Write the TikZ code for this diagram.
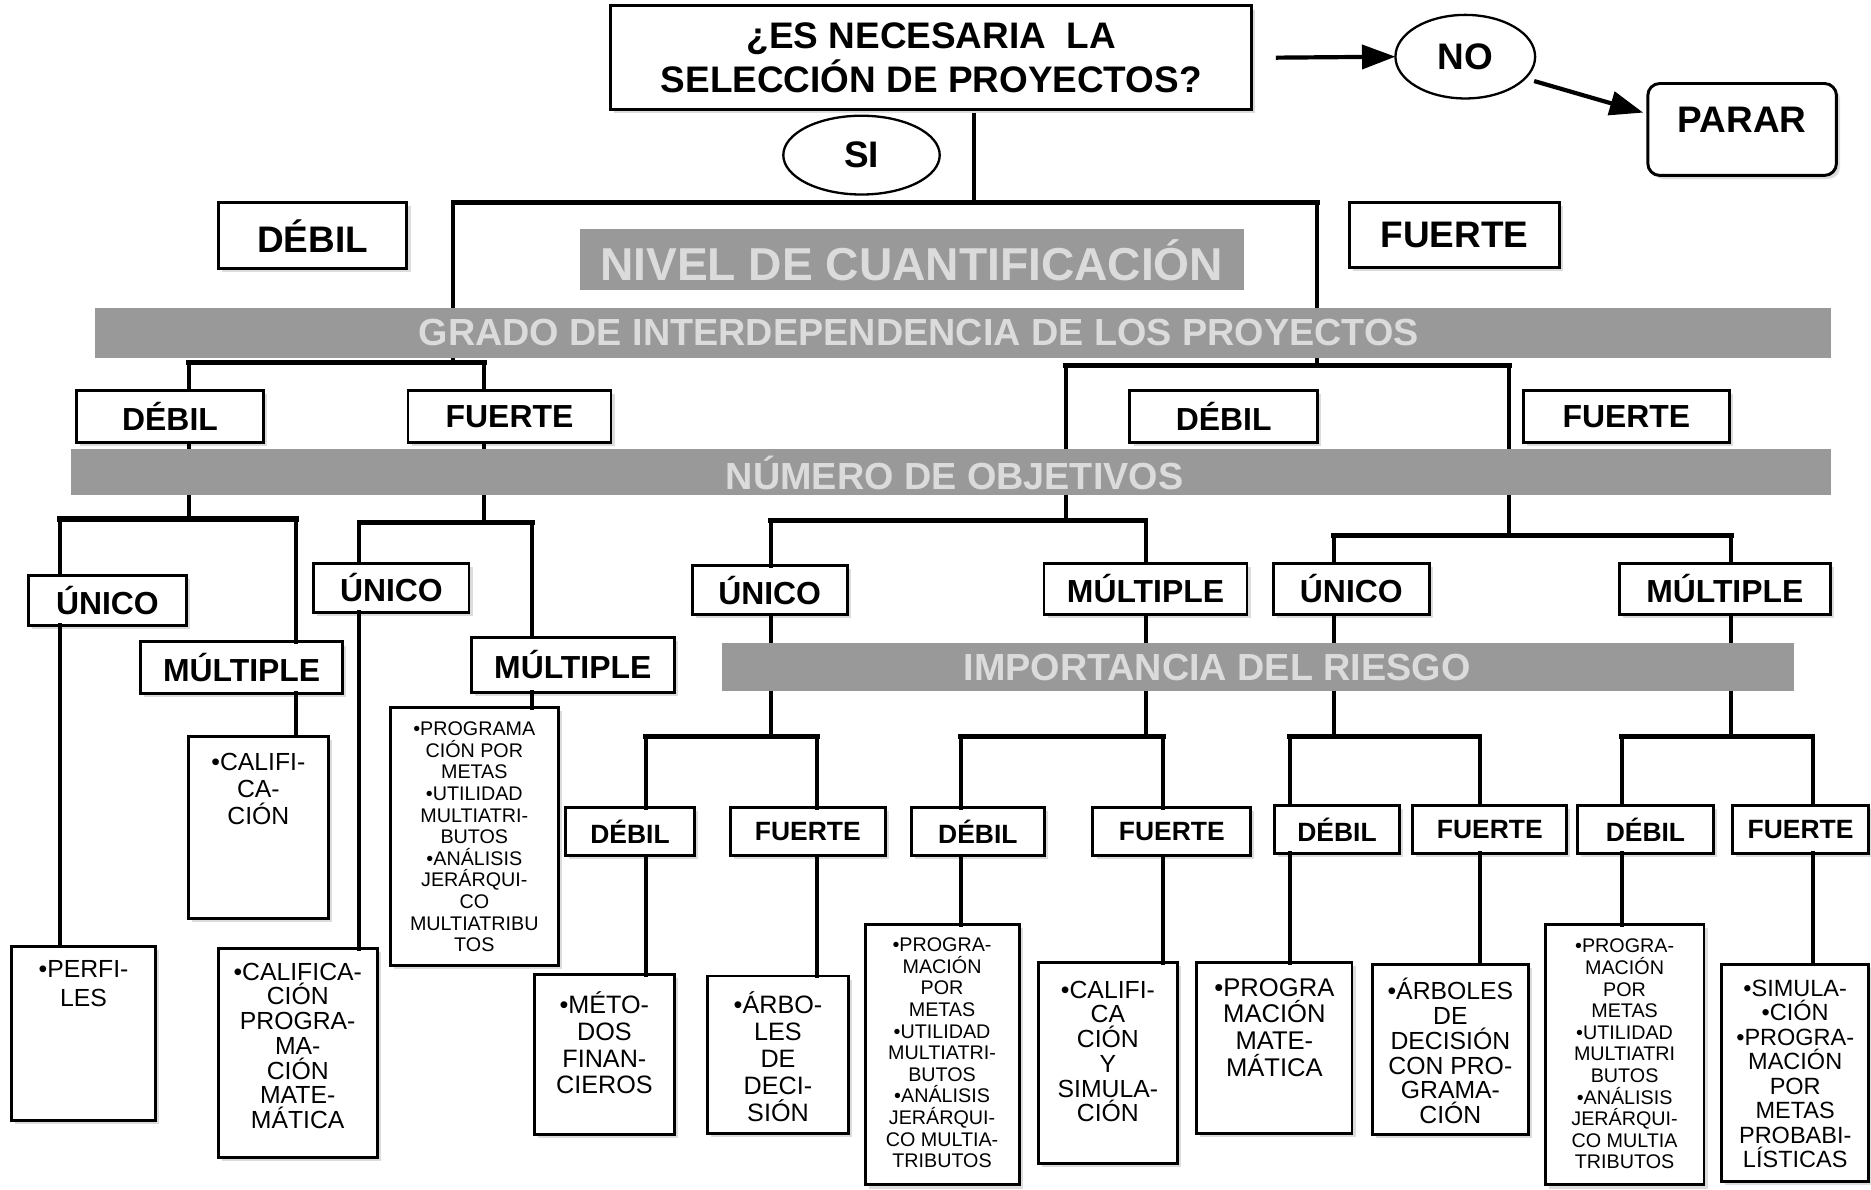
\documentclass[tikz,border=0pt]{standalone}
\usepackage{fontspec}
\setmainfont{Liberation Sans}
\usetikzlibrary{shapes.geometric,arrows.meta,shadows}

% node given by its two corners: [style]{name}{x1}{y1}{x2}{y2}{text}
\newcommand{\cornerbox}[7][]{%
  \pgfmathsetmacro{\cornerboxX}{(#3+#5)/2}%
  \pgfmathsetmacro{\cornerboxY}{(#4+#6)/2}%
  \pgfmathsetmacro{\cornerboxW}{(#5-#3)/100}%
  \pgfmathsetmacro{\cornerboxH}{(#6-#4)/100}%
  \node[#1, minimum width=\cornerboxW cm, minimum height=\cornerboxH cm] (#2) at (\cornerboxX,\cornerboxY) {#7};}

\begin{document}
\begin{tikzpicture}[x=0.01cm, y=-0.01cm,
  every node/.style={inner sep=0pt, outer sep=0pt},
  frame/.style={draw=black, line width=0.7pt, fill=white,
    drop shadow={shadow xshift=0.03cm, shadow yshift=-0.03cm, fill=gray!60, opacity=0.45}},
  labbig/.style={frame, font=\bfseries\fontsize{8.8}{10.5}\selectfont},
  lab/.style={frame, font=\bfseries\fontsize{7.6}{9}\selectfont},
  labsmall/.style={frame, font=\bfseries\fontsize{6.3}{7.5}\selectfont},
  leaftext/.style={anchor=north, align=center, font=\fontsize{5.9}{5.9}\selectfont},
  leafsmall/.style={anchor=north, align=center, font=\fontsize{4.7}{5.15}\selectfont},
  oval/.style={ellipse, draw, line width=0.55pt, fill=white, font=\bfseries\fontsize{8.8}{10.5}\selectfont},
  wire/.style={line width=0.95pt, line cap=rect},
  bus/.style={line width=1.25pt, line cap=rect},
  arrowline/.style={line width=1pt, -{Triangle[length=0.28cm,width=0.2cm]}},
  band/.style={fill=black!40},
  bandtext/.style={text=black!14, font=\bfseries\fontsize{9}{10}\selectfont},
]
\useasboundingbox (0,0) rectangle (1568,997);

% ---------- question, yes / no ----------
\cornerbox[labbig, align=center]{title}{512}{5}{1049}{92}{¿ES NECESARIA\ \ LA\\SELECCIÓN DE PROYECTOS?}
\node[oval, minimum width=1.17cm, minimum height=0.70cm] (no) at (1228,47.5) {NO};
\node[oval, minimum width=1.31cm, minimum height=0.66cm] (si) at (722,130) {SI};
\cornerbox[frame, rounded corners=0.1cm]{parar}{1381}{70}{1539}{147}{}
\node[font=\bfseries\fontsize{8.8}{10.5}\selectfont] (parar-t) at (1460,100) {PARAR};

% ---------- level labels ----------
\cornerbox[labbig]{d1}{183}{170}{341}{225}{DÉBIL}
\cornerbox[labbig]{f1}{1131}{170}{1307}{224}{FUERTE}

\cornerbox[lab]{d2a}{64}{327}{221}{371}{DÉBIL}
\cornerbox[lab]{f2a}{342}{327}{512}{371}{FUERTE}
\cornerbox[lab]{d2b}{947}{327}{1104}{371}{DÉBIL}
\cornerbox[lab]{f2b}{1277}{327}{1449}{371}{FUERTE}

\cornerbox[lab]{u3a}{24}{482}{156}{524}{ÚNICO}
\cornerbox[lab]{m3a}{118}{538}{287}{581}{MÚLTIPLE}
\cornerbox[lab]{u3b}{263}{472}{393}{513}{ÚNICO}
\cornerbox[lab]{m3b}{395}{534}{565}{580}{MÚLTIPLE}
\cornerbox[lab]{u3c}{580}{474}{710}{515}{ÚNICO}
\cornerbox[lab]{m3c}{875}{472}{1045}{515}{MÚLTIPLE}
\cornerbox[lab]{u3d}{1067}{472}{1198}{515}{ÚNICO}
\cornerbox[lab]{m3d}{1357}{472}{1534}{515}{MÚLTIPLE}

\cornerbox[labsmall]{d4a}{474}{677}{582}{717}{DÉBIL}
\cornerbox[labsmall]{f4a}{612}{677}{742}{717}{FUERTE}
\cornerbox[labsmall]{d4b}{764}{677}{875}{717}{DÉBIL}
\cornerbox[labsmall]{f4b}{916}{677}{1048}{717}{FUERTE}
\cornerbox[labsmall]{d4c}{1068}{675}{1173}{715}{DÉBIL}
\cornerbox[labsmall]{f4c}{1184}{675}{1313}{715}{FUERTE}
\cornerbox[labsmall]{d4d}{1322}{675}{1436}{715}{DÉBIL}
\cornerbox[labsmall]{f4d}{1452}{675}{1566}{715}{FUERTE}

% ---------- methods ----------
\cornerbox[frame]{perf}{10}{793}{130}{939}{}
\node[leaftext, font=\fontsize{5.9}{6.8}\selectfont] (perf-t) at ([yshift=-0.12cm]perf.north) {•PERFI-\\LES};
\cornerbox[frame]{calA}{158}{617}{275}{770}{}
\node[leaftext, font=\fontsize{5.9}{6.5}\selectfont] (calA-t) at ([yshift=-0.14cm]calA.north) {•CALIFI-\\CA-\\CIÓN};
\cornerbox[frame]{calB}{183}{795}{316}{970}{}
\node[leaftext] (calB-t) at ([yshift=-0.12cm]calB.north) {•CALIFICA-\\CIÓN\\PROGRA-\\MA-\\CIÓN\\MATE-\\MÁTICA};
\cornerbox[frame]{progL}{327}{593}{468}{809}{}
\node[leafsmall] (progL-t) at ([yshift=-0.12cm]progL.north) {•PROGRAMA\\CIÓN POR\\METAS\\•UTILIDAD\\MULTIATRI-\\BUTOS\\•ANÁLISIS\\JERÁRQUI-\\CO\\MULTIATRIBU\\TOS};
\cornerbox[frame]{met}{448}{817}{565}{951}{}
\node[leaftext, font=\fontsize{6}{6.4}\selectfont] (met-t) at ([yshift=-0.14cm]met.north) {•MÉTO-\\DOS\\FINAN-\\CIEROS};
\cornerbox[frame]{arb}{593}{818}{711}{950}{}
\node[leaftext, font=\fontsize{6}{6.45}\selectfont] (arb-t) at ([yshift=-0.13cm]arb.north) {•ÁRBO-\\LES\\DE\\DECI-\\SIÓN};
\cornerbox[frame]{progR1}{725}{775}{854}{993}{}
\node[leafsmall] (progR1-t) at ([yshift=-0.11cm]progR1.north) {•PROGRA-\\MACIÓN\\POR\\METAS\\•UTILIDAD\\MULTIATRI-\\BUTOS\\•ANÁLISIS\\JERÁRQUI-\\CO MULTIA-\\TRIBUTOS};
\cornerbox[frame]{calsim}{870}{807}{987}{975}{}
\node[leaftext] (calsim-t) at ([yshift=-0.15cm]calsim.north) {•CALIFI-\\CA\\CIÓN\\Y\\SIMULA-\\CIÓN};
\cornerbox[frame]{progmat}{1003}{807}{1133}{950}{}
\node[leaftext, font=\fontsize{6.1}{6.35}\selectfont] (progmat-t) at ([yshift=-0.13cm]progmat.north) {•PROGRA\\MACIÓN\\MATE-\\MÁTICA};
\cornerbox[frame]{arbprog}{1150}{808}{1281}{951}{}
\node[leaftext] (arbprog-t) at ([yshift=-0.12cm]arbprog.north) {•ÁRBOLES\\DE\\DECISIÓN\\CON PRO-\\GRAMA-\\CIÓN};
\cornerbox[frame]{progR2}{1295}{775}{1428}{993}{}
\node[leafsmall] (progR2-t) at ([yshift=-0.12cm]progR2.north) {•PROGRA-\\MACIÓN\\POR\\METAS\\•UTILIDAD\\MULTIATRI\\BUTOS\\•ANÁLISIS\\JERÁRQUI-\\CO MULTIA\\TRIBUTOS};
\cornerbox[frame]{simprog}{1443}{808}{1566}{990}{}
\node[leaftext, font=\fontsize{5.6}{5.85}\selectfont] (simprog-t) at ([yshift=-0.13cm]simprog.north) {•SIMULA-\\•CIÓN\\•PROGRA-\\MACIÓN\\POR\\METAS\\PROBABI-\\LÍSTICAS};

% ---------- junction points of the tree ----------
\coordinate (kQ) at (816,170);
\coordinate (kL) at (380,170);
\coordinate (kR) at (1104,170);
\coordinate (p1L) at (158,304);  \coordinate (p1R) at (406,304);
\coordinate (p2L) at (893,306);  \coordinate (p2R) at (1265,306);
\coordinate (q1L) at (50,435);   \coordinate (q1R) at (248,435);
\coordinate (q2L) at (301,438);  \coordinate (q2R) at (446,438);
\coordinate (q3L) at (646,436);  \coordinate (q3R) at (960,436);
\coordinate (q4L) at (1118,449); \coordinate (q4R) at (1451,449);
\coordinate (r1L) at (541,617);  \coordinate (r1R) at (685,617);
\coordinate (r2L) at (805,617);  \coordinate (r2R) at (975,617);
\coordinate (r3L) at (1081,617); \coordinate (r3R) at (1240,617);
\coordinate (r4L) at (1359,617); \coordinate (r4R) at (1519,617);

% ---------- arrows of the NO branch ----------
\draw[arrowline, shorten <=0.2cm] (title.east) -- (no.west);
\draw[arrowline, shorten <=0.08cm, shorten >=0.04cm] (no.-20) -- ([yshift=0.13cm]parar.west);

% ---------- tree connectors ----------
\draw[wire, shorten <=0.04cm] (title.south -| kQ) -- (kQ);
\draw[bus] (kL) -- (kR);
\draw[wire] (kL) -- (kL |- p1L);
\draw[wire] (kR) -- (kR |- p2L);

\draw[bus] (p1L) -- (p1R);
\draw[bus] (p2L) -- (p2R);
\draw[wire] (p1L) -- (p1L |- d2a.north);
\draw[wire] (p1R) -- (p1R |- f2a.north);
\draw[wire] (p1L |- d2a.south) -- (p1L |- q1L);
\draw[wire] (p1R |- f2a.south) -- (p1R |- q2L);
\draw[wire] (p2L) -- (p2L |- q3L);
\draw[wire] (p2R) -- (p2R |- q4L);

\draw[bus] (q1L) -- (q1R);
\draw[bus] (q2L) -- (q2R);
\draw[bus] (q3L) -- (q3R);
\draw[bus] (q4L) -- (q4R);
\draw[wire] (q1L) -- (q1L |- u3a.north);
\draw[wire] (q1R) -- (q1R |- m3a.north);
\draw[wire] (q2L) -- (q2L |- u3b.north);
\draw[wire] (q2R) -- (q2R |- m3b.north);
\draw[wire] (q3L) -- (q3L |- u3c.north);
\draw[wire] (q3R) -- (q3R |- m3c.north);
\draw[wire] (q4L) -- (q4L |- u3d.north);
\draw[wire] (q4R) -- (q4R |- m3d.north);

\draw[wire] (q1L |- u3a.south) -- (q1L |- perf.north);
\draw[wire] (q1R |- m3a.south) -- (q1R |- calA.north);
\draw[wire] (q2L |- u3b.south) -- (q2L |- calB.north);
\draw[wire] (q2R |- m3b.south) -- (q2R |- progL.north);
\draw[wire] (q3L |- u3c.south) -- (q3L |- r1L);
\draw[wire] (q3R |- m3c.south) -- (q3R |- r2L);
\draw[wire] (q4L |- u3d.south) -- (q4L |- r3L);
\draw[wire] (q4R |- m3d.south) -- (q4R |- r4L);

\draw[bus] (r1L) -- (r1R);
\draw[bus] (r2L) -- (r2R);
\draw[bus] (r3L) -- (r3R);
\draw[bus] (r4L) -- (r4R);
\draw[wire] (r1L) -- (r1L |- d4a.north);
\draw[wire] (r1R) -- (r1R |- f4a.north);
\draw[wire] (r2L) -- (r2L |- d4b.north);
\draw[wire] (r2R) -- (r2R |- f4b.north);
\draw[wire] (r3L) -- (r3L |- d4c.north);
\draw[wire] (r3R) -- (r3R |- f4c.north);
\draw[wire] (r4L) -- (r4L |- d4d.north);
\draw[wire] (r4R) -- (r4R |- f4d.north);

\draw[wire] (r1L |- d4a.south) -- (r1L |- met.north);
\draw[wire] (r1R |- f4a.south) -- (r1R |- arb.north);
\draw[wire] (r2L |- d4b.south) -- (r2L |- progR1.north);
\draw[wire] (r2R |- f4b.south) -- (r2R |- calsim.north);
\draw[wire] (r3L |- d4c.south) -- (r3L |- progmat.north);
\draw[wire] (r3R |- f4c.south) -- (r3R |- arbprog.north);
\draw[wire] (r4L |- d4d.south) -- (r4L |- progR2.north);
\draw[wire] (r4R |- f4d.south) -- (r4R |- simprog.north);

% ---------- criterion bands, laid over the lines ----------
\cornerbox[band]{band1}{486}{192}{1042}{243}{}
\node[bandtext, font=\bfseries\fontsize{11}{12}\selectfont] (band1-t) at (764,218) {NIVEL DE CUANTIFICACIÓN};
\cornerbox[band]{band2}{80}{258}{1534}{300}{}
\node[bandtext] (band2-t) at (770,279) {GRADO DE INTERDEPENDENCIA DE LOS PROYECTOS};
\cornerbox[band]{band3}{60}{376}{1534}{415}{}
\node[bandtext] (band3-t) at (800,396) {NÚMERO DE OBJETIVOS};
\cornerbox[band]{band4}{605}{539}{1503}{579}{}
\node[bandtext] (band4-t) at (1020,559) {IMPORTANCIA DEL RIESGO};

\end{tikzpicture}
\end{document}
